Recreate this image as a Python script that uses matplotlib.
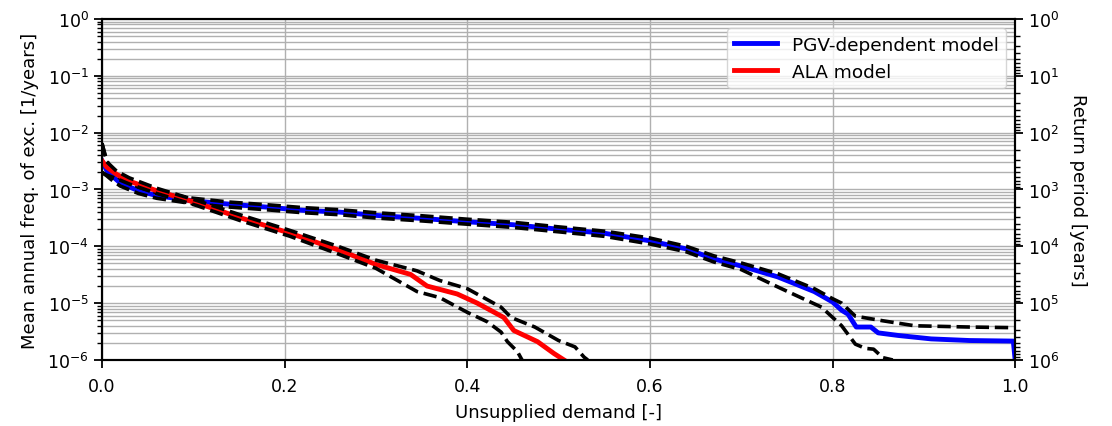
import matplotlib
matplotlib.use("Agg")
import matplotlib.pyplot as plt
import numpy as np

# === DATA ===
# PGV-dependent model: median and bounds
pgv_x = [0, 0.005, 0.01, 0.02, 0.04, 0.06, 0.1, 0.14, 0.18, 0.22, 0.26, 0.3, 0.35, 0.4,
         0.45, 0.5, 0.55, 0.6, 0.64, 0.67, 0.7, 0.74, 0.78, 0.8, 0.81, 0.817, 0.826,
         0.842, 0.85, 0.872, 0.908, 0.95, 0.998, 1.0]
pgv_y = [3.2e-3, 2.2e-3, 1.8e-3, 1.3e-3, 9.5e-4, 7.8e-4, 6.3e-4, 5.5e-4, 4.9e-4, 4.3e-4,
         4.0e-4, 3.5e-4, 3.1e-4, 2.7e-4, 2.4e-4, 2.0e-4, 1.7e-4, 1.25e-4, 9.0e-5, 6.0e-5,
         4.5e-5, 2.9e-5, 1.6e-5, 1.05e-5, 7.5e-6, 6.4e-6, 3.8e-6, 3.8e-6, 3.0e-6, 2.7e-6,
         2.35e-6, 2.2e-6, 2.15e-6, 1e-6]

pgv_up_x = [0, 0.005, 0.01, 0.02, 0.04, 0.06, 0.1, 0.14, 0.18, 0.22, 0.26, 0.3, 0.35, 0.4,
            0.45, 0.5, 0.55, 0.6, 0.64, 0.67, 0.7, 0.74, 0.78, 0.8, 0.81, 0.825, 0.855,
            0.89, 0.95, 1.0]
pgv_up_y = [6.5e-3, 3.3e-3, 2.3e-3, 1.55e-3, 1.1e-3, 8.8e-4, 7e-4, 6e-4, 5.4e-4, 4.8e-4,
            4.4e-4, 3.9e-4, 3.45e-4, 3.0e-4, 2.65e-4, 2.2e-4, 1.85e-4, 1.4e-4, 1.0e-4,
            6.8e-5, 5.1e-5, 3.3e-5, 1.8e-5, 1.2e-5, 1.0e-5, 5.9e-6, 4.9e-6, 4.0e-6, 3.8e-6,
            3.7e-6]

pgv_lo_x = [0, 0.005, 0.01, 0.02, 0.04, 0.06, 0.1, 0.14, 0.18, 0.22, 0.26, 0.3, 0.35, 0.4,
            0.45, 0.5, 0.55, 0.6, 0.64, 0.67, 0.7, 0.744, 0.788, 0.81, 0.825, 0.836, 0.845,
            0.855, 0.866]
pgv_lo_y = [2.0e-3, 1.75e-3, 1.5e-3, 1.15e-3, 8.5e-4, 7.0e-4, 5.6e-4, 4.9e-4, 4.4e-4, 3.9e-4,
            3.6e-4, 3.15e-4, 2.8e-4, 2.45e-4, 2.15e-4, 1.8e-4, 1.5e-4, 1.1e-4, 8.0e-5,
            5.3e-5, 3.9e-5, 1.8e-5, 8.5e-6, 4.0e-6, 1.9e-6, 1.6e-6, 1.55e-6, 1.1e-6, 1.0e-6]

# ALA model: median and bounds
ala_x = [0, 0.005, 0.016, 0.03, 0.06, 0.104, 0.151, 0.206, 0.26, 0.3, 0.338, 0.356, 0.389,
         0.411, 0.44, 0.451, 0.477, 0.495, 0.506]
ala_y = [3.2e-3, 2.5e-3, 1.85e-3, 1.4e-3, 9.5e-4, 5.8e-4, 3.2e-4, 1.7e-4, 8.5e-5, 4.8e-5,
         3.2e-5, 2.0e-5, 1.45e-5, 1.0e-5, 5.6e-6, 3.3e-6, 2.1e-6, 1.3e-6, 1.0e-6]

ala_up_x = [0, 0.005, 0.016, 0.03, 0.06, 0.104, 0.151, 0.206, 0.26, 0.3, 0.345, 0.37, 0.4,
            0.437, 0.448, 0.474, 0.5, 0.518, 0.528, 0.532]
ala_up_y = [6.5e-3, 3.1e-3, 2.1e-3, 1.6e-3, 1.05e-3, 6.4e-4, 3.6e-4, 1.9e-4, 9.8e-5, 5.7e-5,
            3.7e-5, 2.5e-5, 1.8e-5, 8.5e-6, 5.6e-6, 3.8e-6, 2.2e-6, 1.7e-6, 1.12e-6, 1.0e-6]

ala_lo_x = [0, 0.005, 0.016, 0.03, 0.06, 0.104, 0.151, 0.206, 0.26, 0.3, 0.345, 0.37, 0.4,
            0.422, 0.437, 0.444, 0.455, 0.46]
ala_lo_y = [2.0e-3, 1.8e-3, 1.55e-3, 1.25e-3, 8.5e-4, 5.2e-4, 2.85e-4, 1.5e-4, 7.2e-5, 4.1e-5,
            1.6e-5, 1.25e-5, 6.9e-6, 4.7e-6, 3.1e-6, 2.1e-6, 1.4e-6, 1.0e-6]

plt.rcParams['font.size'] = 12.5
plt.rcParams['axes.linewidth'] = 1.5
plt.rcParams['xtick.major.size'] = 6
plt.rcParams['ytick.major.size'] = 6
plt.rcParams['ytick.minor.size'] = 3.5
plt.rcParams['xtick.major.width'] = 1.3
plt.rcParams['ytick.major.width'] = 1.3
plt.rcParams['ytick.minor.width'] = 1.0
plt.rcParams['xtick.major.pad'] = 6

fig = plt.figure(figsize=(11.12, 4.27), dpi=100)
ax = fig.add_axes([0.0917, 0.1546, 0.8212, 0.7986])

ax.plot(pgv_x, pgv_y, color='blue', linewidth=3.5, label='PGV-dependent model')
ax.plot(pgv_up_x, pgv_up_y, color='black', linestyle='--', linewidth=2.6)
ax.plot(pgv_lo_x, pgv_lo_y, color='black', linestyle='--', linewidth=2.6)
ax.plot(ala_x, ala_y, color='red', linewidth=3.5, label='ALA model')
ax.plot(ala_up_x, ala_up_y, color='black', linestyle='--', linewidth=2.6)
ax.plot(ala_lo_x, ala_lo_y, color='black', linestyle='--', linewidth=2.6)

ax.set_yscale('log')
ax.set_xlim(0, 1)
ax.set_ylim(1e-6, 1)
ax.set_xticks([0, 0.2, 0.4, 0.6, 0.8, 1.0])
ax.set_xlabel('Unsupplied demand [-]', fontsize=13, labelpad=6)
ax.set_ylabel('Mean annual freq. of exc. [1/years]', fontsize=13, labelpad=6)
ax.grid(True, which='major', axis='x', color='#b0b0b0', linewidth=1)
ax.grid(True, which='both', axis='y', color='#b0b0b0', linewidth=1)
ax.set_axisbelow(True)
ax.legend(loc='upper right', fontsize=13.3, handlelength=2.3)

ax2 = ax.twinx()
ax2.set_yscale('log')
ax2.set_ylim(1, 1e6)
ax2.invert_yaxis()
ax2.set_ylabel('Return period [years]', rotation=270, labelpad=20, fontsize=13)

fig.savefig('out.png', dpi=100)
